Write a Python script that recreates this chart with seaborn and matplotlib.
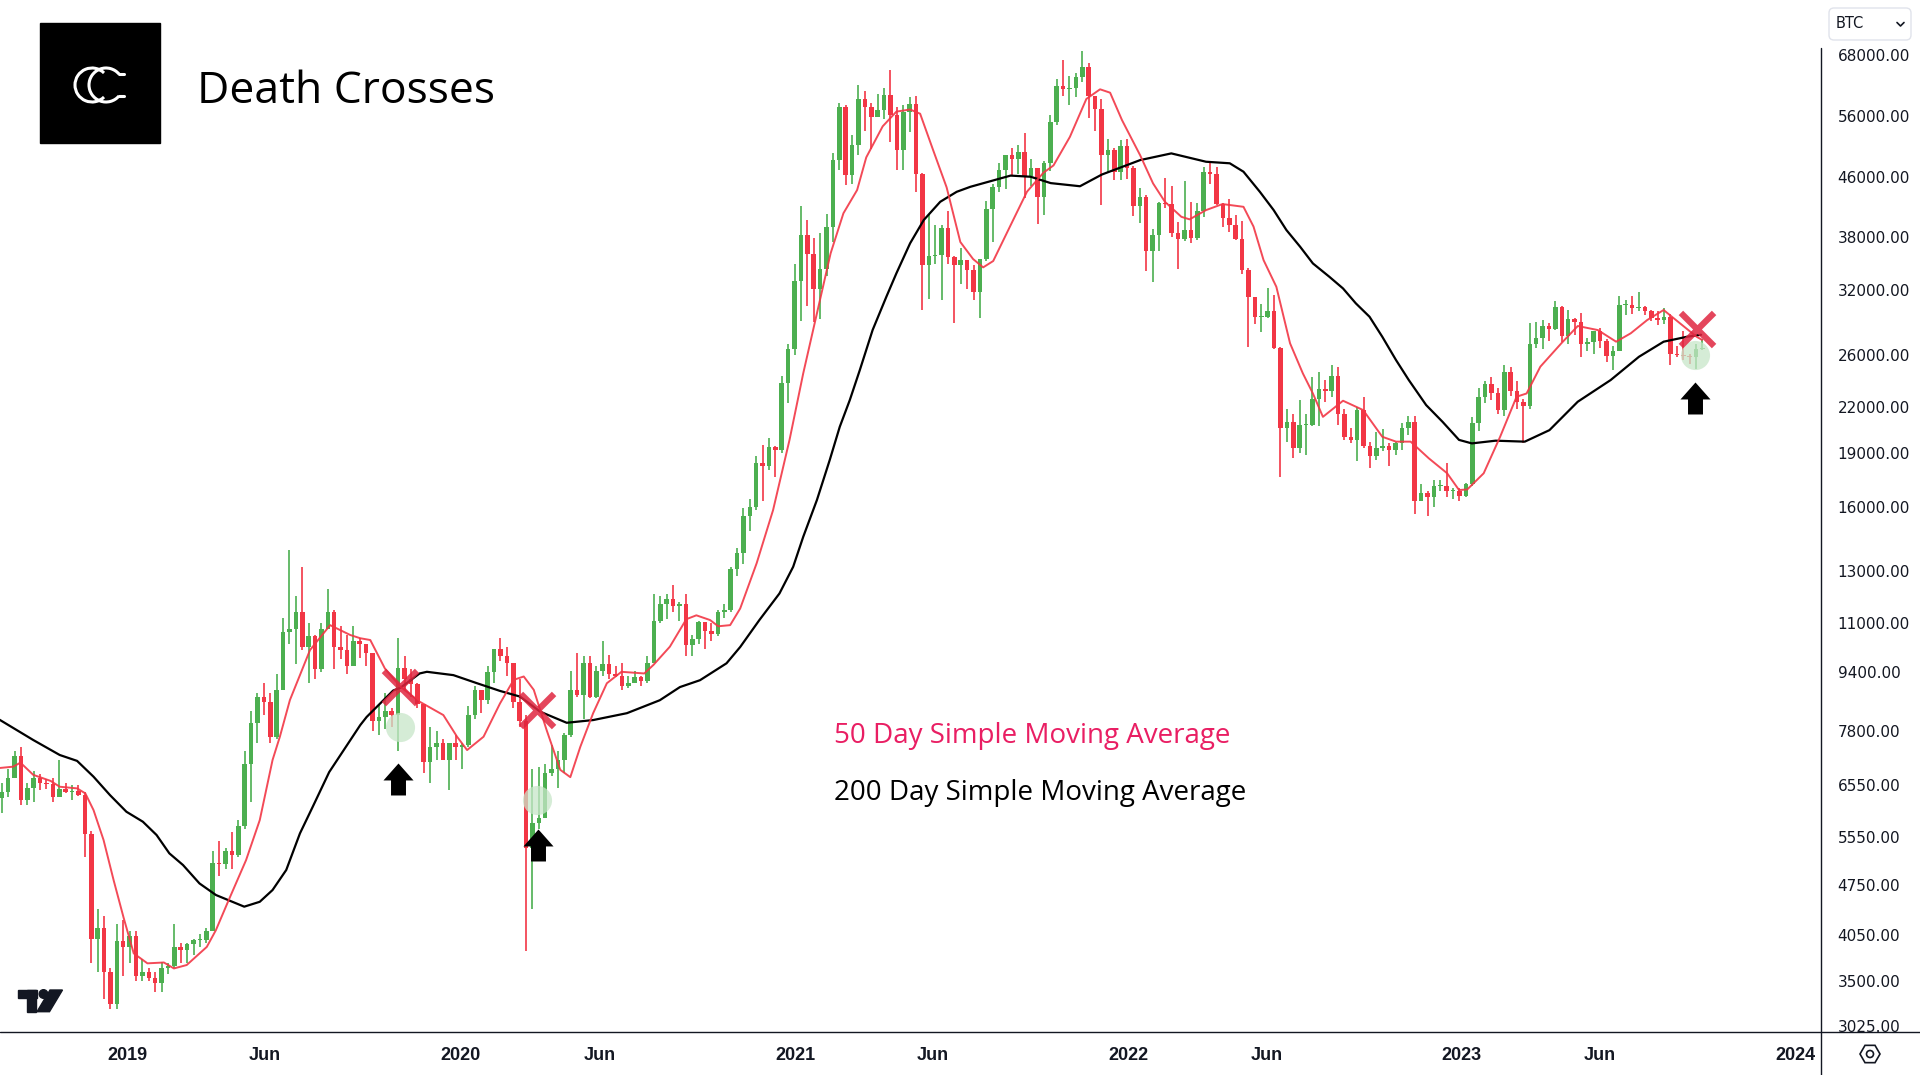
import numpy as np
import pandas as pd
import matplotlib
matplotlib.use('Agg')
import matplotlib.pyplot as plt
import matplotlib.dates as mdates
from matplotlib.patches import Rectangle, Circle, Polygon, RegularPolygon, FancyBboxPatch, Arc
from matplotlib.path import Path
from matplotlib.ticker import NullLocator, NullFormatter
import seaborn as sns

# weekly BTC candles, weeks start on Monday 2018-08-13
week_start = '2018-08-13'
first_open = 6280
close = [
    # 2018
    6400, 6700, 7200, 6250, 6500, 6700, 6600, 6570, 6300, 6480, 6400, 6420, 6350, 5600, 4000,
    4150, 3600, 3250, 3980, 3900, 4040,
    # 2019
    3550, 3600, 3530, 3470, 3650, 3670, 3900, 3860, 3940, 3990, 3990, 4100, 5100, 5080, 5300,
    5230, 5750, 7000, 8000, 8700, 8550, 7650, 8900, 10700, 10800, 11400, 10200, 10550, 9500,
    10800, 11400, 10200, 10100, 9600, 10400, 10300, 10000, 8050, 8150, 8300, 8200, 9550, 9200,
    9050, 8500, 7050, 7400, 7500, 7100, 7500, 7400, 7450,
    # 2020
    8200, 8900, 8600, 9400, 10150, 9900, 9700, 8550, 8050, 5350, 5800, 5900, 6800, 6900, 7100,
    7700, 8900, 8750, 9700, 8700, 9450, 9650, 9350, 9300, 9000, 9100, 9250, 9150, 9700, 11100,
    11700, 11900, 11650, 11700, 10250, 10450, 11050, 10750, 10650, 11400, 11500, 13100, 13800,
    15500, 16000, 18400, 18200, 19350, 19200, 23800, 26500, 33000,
    # 2021
    38200, 36000, 32100, 34300, 39250, 48600, 57500, 46300, 51000, 59000, 57500, 55800, 57100,
    59800, 56200, 50100, 56600, 58200, 46400, 34700, 35700, 35800, 39100, 35600, 34700, 35300,
    34200, 31800, 35400, 41500, 44600, 47100, 49300, 48800, 49900, 46100, 47300, 43200, 48200,
    54900, 61500, 61000, 61300, 63300, 65500, 59700, 57200, 49400, 50100, 46700, 50800, 47300,
    # 2022
    41900, 43100, 36300, 38200, 42400, 42200, 38400, 37700, 38800, 37800, 41300, 46800, 46400,
    42200, 40400, 39500, 37700, 34100, 31300, 29400, 29400, 29900, 26600, 20600, 21000, 19300,
    20800, 20800, 22600, 23300, 23200, 24300, 21500, 20000, 19800, 21800, 19400, 18800, 19300,
    19400, 19200, 19600, 20600, 21000, 16300, 16700, 16500, 17100, 17100, 16800, 16800, 16550,
    # 2023
    17200, 20900, 22700, 23700, 23000, 21800, 24600, 23200, 22400, 22100, 26900, 27500, 28500,
    28300, 30300, 27600, 29200, 28900, 26900, 27100, 28100, 27200, 25900, 26300, 30500, 30500,
    30200, 30300, 29900, 29300, 29100, 29400, 26100, 26000, 25900, 25800, 26500, 26600,
]
high = [
    # 2018
    6600, 6900, 7300, 7400, 6600, 6850, 6780, 6680, 6700, 7100, 6600, 6560, 6550, 6400, 5650,
    4400, 4300, 3650, 4200, 4250, 4100,
    # 2019
    4100, 3750, 3650, 3600, 3720, 3700, 4200, 3950, 3950, 4000, 4060, 4150, 5300, 5470, 5350,
    5630, 5850, 7300, 8300, 8800, 9100, 8800, 9350, 11200, 13900, 12000, 13200, 11000, 10600,
    11000, 12300, 11500, 10900, 10600, 10900, 10500, 10300, 10000, 8500, 8800, 8400, 10500, 9900,
    9500, 9100, 8500, 7900, 7800, 7600, 7500, 7700, 7500,
    # 2020
    8450, 9000, 8900, 9600, 10150, 10500, 10200, 9700, 9200, 8200, 6900, 6950, 7000, 7450, 7300,
    7750, 9450, 10000, 9900, 9900, 9600, 10400, 9950, 9600, 9700, 9300, 9450, 9300, 9900, 12100,
    12000, 12100, 12450, 11800, 12100, 10600, 11100, 11000, 11000, 11500, 11700, 13200, 14000,
    15900, 16400, 18800, 19500, 19900, 19450, 24300, 26900, 34800,
    # 2021
    41900, 40100, 37800, 38500, 40900, 49700, 58300, 58000, 52600, 61700, 60600, 58400, 60000,
    61300, 64800, 57500, 58000, 59500, 59600, 46600, 40900, 39500, 39500, 41300, 35700, 36600,
    35100, 34700, 34500, 42600, 45000, 48100, 49400, 50500, 51000, 52900, 48800, 47400, 48500,
    56100, 62900, 67000, 63700, 64300, 69000, 66300, 59300, 59100, 51900, 50500, 51800, 52000,
    # 2022
    47600, 44400, 43500, 38900, 42500, 45800, 44700, 39800, 45400, 42500, 42300, 47500, 48200,
    47500, 42400, 42900, 40800, 40000, 34400, 31300, 30600, 32200, 31500, 26700, 21900, 21500,
    22500, 21500, 24200, 24600, 24000, 25200, 25000, 21900, 20600, 22000, 22700, 19700, 20300,
    20500, 19600, 19700, 20900, 21400, 21400, 17200, 16800, 17400, 17400, 18400, 17000, 17000,
    # 2023
    17250, 21300, 23400, 23900, 24250, 23400, 25200, 25000, 23900, 22600, 28800, 28900, 29100,
    28800, 30900, 30400, 30000, 29300, 29800, 27500, 28000, 28400, 27400, 26800, 31400, 31000,
    31400, 31800, 30400, 30000, 29900, 30200, 29700, 26800, 28100, 26100, 26900, 27400,
]
low = [
    # 2018
    6000, 6300, 6700, 6150, 6150, 6200, 6450, 6480, 6200, 6300, 6380, 6250, 6320, 5200, 3700,
    3600, 3300, 3200, 3200, 3550, 3700,
    # 2019
    3500, 3500, 3500, 3370, 3380, 3580, 3650, 3700, 3700, 3800, 3900, 3950, 4100, 4900, 5000,
    5000, 5200, 5700, 6200, 7500, 8200, 7500, 7600, 8900, 10300, 9650, 10100, 9100, 9200,
    9400, 10800, 9500, 9800, 9350, 9600, 9850, 9600, 7800, 7700, 7850, 7900, 7300, 8900,
    8700, 8400, 6800, 6600, 7100, 7100, 6450, 7100, 6900,
    # 2020
    7400, 8100, 8250, 8500, 9100, 9750, 9300, 8400, 7900, 3850, 4400, 5700, 5900, 6750, 6500,
    6800, 7650, 8700, 8100, 8650, 8650, 9300, 9200, 9250, 8900, 8950, 9100, 9000, 9100, 9700,
    11000, 11150, 11400, 11100, 9900, 9900, 10300, 10150, 10400, 10550, 11200, 11400, 12800,
    13300, 14800, 15800, 16300, 18000, 17600, 19000, 22300, 26000,
    # 2021
    29000, 30400, 28900, 29200, 33500, 37400, 47000, 44900, 45000, 49300, 53300, 50400, 55700,
    55400, 51500, 47000, 47100, 53100, 43800, 30000, 31100, 34800, 31000, 34800, 28800, 32700,
    32100, 31000, 29300, 35200, 37400, 43800, 44300, 46300, 46400, 43000, 44700, 39600, 40800,
    46900, 54300, 59600, 58000, 59400, 62300, 55600, 53300, 42000, 46800, 45500, 45600, 45700,
    # 2022
    40600, 39700, 34000, 32900, 36300, 41700, 38000, 34300, 37500, 37200, 37600, 40500, 45000,
    42100, 39200, 38600, 37600, 33700, 26700, 28700, 28000, 29300, 26500, 17600, 19700, 18700,
    19000, 18900, 20700, 20700, 22400, 22700, 20800, 19800, 19600, 18500, 19300, 18100, 18600,
    19100, 18200, 18900, 19200, 20100, 15600, 16300, 15500, 16000, 16800, 16500, 16400, 16300,
    # 2023
    16500, 17100, 20400, 22300, 22500, 21500, 21400, 22800, 21900, 19600, 21900, 26600, 26500,
    27200, 28200, 27100, 26900, 27700, 25800, 26300, 26100, 26600, 25400, 24800, 26300, 29600,
    29700, 29900, 29600, 29000, 28600, 28700, 25200, 25800, 25600, 25300, 24900, 26400,
]

# 50 day SMA (red) and 200 day SMA (black)
sma50_dates = [
    '2018-08-14', '2018-08-29', '2018-09-06', '2018-09-20', '2018-10-09', '2018-10-19', '2018-11-07',
    '2018-11-16', '2018-11-25', '2018-12-06', '2018-12-17', '2018-12-28', '2019-01-08', '2019-01-23',
    '2019-02-10', '2019-02-21', '2019-03-07', '2019-03-29', '2019-04-08', '2019-04-22', '2019-05-11',
    '2019-05-26', '2019-06-09', '2019-06-17', '2019-06-28', '2019-07-20', '2019-08-11', '2019-09-02',
    '2019-09-13', '2019-09-24', '2019-10-10', '2019-10-27', '2019-11-17', '2019-12-13', '2019-12-28',
    '2020-01-08', '2020-01-26', '2020-02-13', '2020-02-28', '2020-03-10', '2020-03-21', '2020-04-04',
    '2020-04-19', '2020-04-30', '2020-05-11', '2020-05-25', '2020-06-09', '2020-06-25', '2020-07-20',
    '2020-07-30', '2020-08-17', '2020-09-04', '2020-09-15', '2020-09-30', '2020-10-09', '2020-10-22',
    '2020-11-02', '2020-11-20', '2020-12-08', '2020-12-26', '2021-01-10', '2021-01-25', '2021-02-09',
    '2021-02-23', '2021-03-10', '2021-03-20', '2021-04-07', '2021-04-22', '2021-05-07', '2021-05-18',
    '2021-06-01', '2021-06-16', '2021-07-01', '2021-07-15', '2021-07-26', '2021-08-06', '2021-08-25',
    '2021-09-12', '2021-09-30', '2021-10-11', '2021-10-29', '2021-11-16', '2021-12-01', '2021-12-12',
    '2021-12-25', '2022-01-14', '2022-01-28', '2022-02-10', '2022-02-28', '2022-03-09', '2022-03-27',
    '2022-04-14', '2022-05-07', '2022-05-18', '2022-05-29', '2022-06-12', '2022-06-27', '2022-07-11',
    '2022-07-22', '2022-08-02', '2022-08-24', '2022-09-15', '2022-10-06', '2022-10-21', '2022-11-06',
    '2022-11-26', '2022-12-16', '2022-12-29', '2023-01-07', '2023-01-25', '2023-02-12', '2023-03-02',
    '2023-03-13', '2023-03-28', '2023-04-20', '2023-05-08', '2023-05-30', '2023-06-19', '2023-07-05',
    '2023-07-23', '2023-08-10', '2023-08-28', '2023-09-15', '2023-09-21',
]
sma50_vals = [
    6920, 6950, 7040, 6770, 6640, 6517, 6483,
    6380, 6047, 5493, 4830, 4280, 3820, 3700,
    3710, 3640, 3680, 3900, 4116, 4532, 5151,
    5856, 7100, 7650, 8604, 10100, 10940, 10600,
    10490, 10430, 9520, 8980, 8560, 8200, 7650,
    7330, 7650, 8510, 9180, 9280, 8890, 7820,
    6880, 6720, 7410, 8250, 9080, 9420, 9370,
    9630, 10210, 11150, 11290, 11120, 10900, 10940,
    11540, 13340, 15820, 19810, 24520, 29720, 36030,
    40960, 44130, 49000, 54130, 56740, 57130, 56360,
    50250, 44510, 37360, 35370, 34440, 35150, 39410,
    43900, 46650, 47750, 52340, 59100, 60950, 60290,
    55220, 49300, 45080, 42500, 40500, 40170, 41380,
    42190, 41820, 39250, 35250, 32360, 27000, 24520,
    22990, 21330, 22460, 21800, 20010, 19700, 19700,
    18670, 17800, 16870, 16900, 17800, 20010, 22750,
    22990, 25050, 27000, 28540, 28170, 27140, 27880,
    29090, 30040, 28780, 27580, 27300,
]
sma200_dates = [
    '2018-08-14', '2018-09-20', '2018-10-19', '2018-11-07', '2018-11-25', '2018-12-13', '2018-12-31',
    '2019-01-18', '2019-02-02', '2019-02-16', '2019-03-03', '2019-03-21', '2019-04-08', '2019-04-26',
    '2019-05-09', '2019-05-26', '2019-06-09', '2019-06-24', '2019-07-09', '2019-07-23', '2019-08-10',
    '2019-09-13', '2019-09-20', '2019-10-19', '2019-10-27', '2019-11-17', '2019-11-25', '2019-12-24',
    '2020-01-19', '2020-02-13', '2020-03-06', '2020-03-28', '2020-04-26', '2020-05-25', '2020-07-01',
    '2020-08-06', '2020-08-28', '2020-09-19', '2020-09-30', '2020-10-18', '2020-11-02', '2020-11-23',
    '2020-12-15', '2020-12-30', '2021-01-10', '2021-01-25', '2021-02-08', '2021-02-19', '2021-03-02',
    '2021-03-13', '2021-03-27', '2021-04-11', '2021-04-22', '2021-05-07', '2021-05-22', '2021-06-09',
    '2021-06-27', '2021-07-12', '2021-08-25', '2021-09-16', '2021-10-08', '2021-11-09', '2021-12-03',
    '2022-01-14', '2022-02-17', '2022-03-27', '2022-04-22', '2022-05-07', '2022-05-25', '2022-06-09',
    '2022-06-23', '2022-07-08', '2022-07-22', '2022-08-09', '2022-08-24', '2022-09-07', '2022-09-22',
    '2022-10-06', '2022-10-21', '2022-11-04', '2022-11-23', '2022-12-11', '2022-12-29', '2023-01-12',
    '2023-02-07', '2023-03-11', '2023-04-07', '2023-05-08', '2023-06-13', '2023-07-14', '2023-08-10',
    '2023-09-05', '2023-09-20',
]
sma200_vals = [
    8080, 7570, 7215, 7080, 6730, 6345, 6015,
    5826, 5583, 5264, 5070, 4780, 4606, 4507,
    4437, 4507, 4680, 4991, 5612, 6112, 6830,
    7940, 8150, 8870, 8950, 9370, 9420, 9320,
    9080, 8860, 8700, 8290, 8000, 8070, 8250,
    8600, 8970, 9170, 9360, 9680, 10200, 11120,
    12110, 13190, 14520, 16340, 18570, 20660, 22510,
    24790, 28180, 31340, 33790, 37200, 40090, 42500,
    43880, 44590, 46220, 46050, 45120, 44670, 46380,
    48580, 49630, 48320, 48080, 46800, 43870, 41390,
    38820, 36800, 34880, 33420, 32190, 30690, 29400,
    27570, 25590, 24000, 22150, 20990, 19810, 19590,
    19760, 19700, 20440, 22390, 24000, 25860, 27140,
    27580, 27750,
]

# death cross markers
cross_dates = ['2019-10-27', '2020-03-24', '2023-09-16']
cross_prices = [8980, 8330, 28230]
circle_dates = ['2019-10-26', '2020-03-25', '2023-09-13']
circle_prices = [7900, 6245, 26000]
arrow_dates = ['2019-10-24', '2020-03-26', '2023-09-13']
arrow_prices = [6680, 5400, 22670]

price_ticks = [68000, 56000, 46000, 38000, 32000, 26000, 22000, 19000, 16000, 13000,
               11000, 9400, 7800, 6550, 5550, 4750, 4050, 3500, 3025]
time_ticks = ['2019-01-01', '2019-06-01', '2020-01-01', '2020-06-01', '2021-01-01', '2021-06-01',
              '2022-01-01', '2022-06-01', '2023-01-01', '2023-06-01', '2024-01-01']
time_labels = ['2019', 'Jun', '2020', 'Jun', '2021', 'Jun', '2022', 'Jun', '2023', 'Jun', '2024']

sns.set_theme(style='white')
plt.rcParams['font.family'] = ['DejaVu Sans']

W, H = 1920, 1075
fig = plt.figure(figsize=(W / 100, H / 100), dpi=100)
fig.patch.set_facecolor('white')
ax = fig.add_axes([0, 43 / H, 1821 / W, 1032 / H])
ax.set_facecolor('white')

# candles
xw = mdates.date2num(pd.date_range(week_start, periods=len(close), freq='7D')) + 3.5
c = np.array(close, dtype=float)
o = np.r_[first_open, c[:-1]]
hi = np.array(high, dtype=float)
lo = np.array(low, dtype=float)
col = np.where(c >= o, '#4caf50', '#f23645')
ax.vlines(xw, lo, hi, colors=col, linewidth=1.2, zorder=2)
body = np.maximum(np.abs(c - o), o * 0.003)
ax.bar(xw, body, bottom=np.minimum(o, c), width=5.0, color=col, linewidth=0, zorder=2)

# moving averages
df50 = pd.DataFrame({'x': mdates.date2num(pd.to_datetime(sma50_dates)), 'y': sma50_vals})
df200 = pd.DataFrame({'x': mdates.date2num(pd.to_datetime(sma200_dates)), 'y': sma200_vals})
sns.lineplot(data=df200, x='x', y='y', ax=ax, color='black', linewidth=1.6, zorder=3)
sns.lineplot(data=df50, x='x', y='y', ax=ax, color='#f23645', linewidth=1.4, alpha=0.9, zorder=3)

# crosses, circles, arrows
ax.scatter(mdates.date2num(pd.to_datetime(circle_dates)), circle_prices, s=440,
           color='#c8e6c9', alpha=0.75, linewidths=0, zorder=4)
ax.scatter(mdates.date2num(pd.to_datetime(cross_dates)), cross_prices, marker='x', s=570,
           linewidths=4.5, color='#e0253f', alpha=0.85, zorder=5)
arrow = Path([(0, 0.5), (0.47, -0.03), (0.234, -0.03), (0.234, -0.5), (-0.234, -0.5),
              (-0.234, -0.03), (-0.47, -0.03), (0, 0.5)])
ax.scatter(mdates.date2num(pd.to_datetime(arrow_dates)), arrow_prices, marker=arrow, s=530,
           color='black', linewidths=0, zorder=5)

# axes
ax.set_yscale('log')
ax.yaxis.set_minor_locator(NullLocator())
ax.yaxis.set_minor_formatter(NullFormatter())
ax.set_yticks(price_ticks)
ax.set_yticklabels([f'{v:.2f}' for v in price_ticks])
ax.yaxis.tick_right()
ax.tick_params(axis='y', length=0, pad=12, labelsize=11, labelcolor='#131722')
ax.set_ylim(2969, 81150)
base = mdates.date2num(pd.Timestamp('2019-01-01'))
ax.set_xlim(base - 139.4, base + 1854.3)
ax.set_xticks(mdates.date2num(pd.to_datetime(time_ticks)))
ax.set_xticklabels(time_labels)
ax.tick_params(axis='x', length=0, pad=11, labelsize=13, labelcolor='#131722')
for t in ax.get_xticklabels():
    t.set_fontweight('bold')
    t.set_family(['Liberation Sans Narrow', 'Liberation Sans', 'DejaVu Sans'])
ax.set_xlabel('')
ax.set_ylabel('')
for s in ax.spines.values():
    s.set_visible(False)

# overlay in pixel units for the frame lines and decorations
ov = fig.add_axes([0, 0, 1, 1], zorder=10)
ov.set_xlim(0, W)
ov.set_ylim(H, 0)
ov.axis('off')
ov.plot([0, W], [1032, 1032], color='#131722', lw=1.0)
ov.plot([1821, 1821], [48, H], color='#131722', lw=1.0)

# logo
ov.add_patch(Rectangle((40, 23), 120, 120, color='black'))
ov.add_patch(Arc((92, 85), 34, 34, theta1=45, theta2=315, color='white', lw=2.2))
ov.add_patch(Arc((106, 85), 34, 34, theta1=40, theta2=320, color='white', lw=2.2))
ov.plot([119, 124], [74, 74], color='white', lw=2.2)
ov.plot([119, 124], [96, 96], color='white', lw=2.2)
ov.text(197, 103, 'Death Crosses', fontsize=32, family=['Open Sans', 'DejaVu Sans'],
        color='black', ha='left', va='baseline')

ov.text(834, 743, '50 Day Simple Moving Average', fontsize=20,
        family=['Open Sans', 'DejaVu Sans'], color='#e91e63', ha='left', va='baseline')
ov.text(834, 800, '200 Day Simple Moving Average', fontsize=20,
        family=['Open Sans', 'DejaVu Sans'], color='black', ha='left', va='baseline')

# TradingView mark
tv = '#131722'
ov.add_patch(Rectangle((18, 990), 18.5, 7.5, color=tv))
ov.add_patch(Rectangle((26.7, 990), 9.3, 21.7, color=tv))
ov.add_patch(Circle((43.5, 994), 4.3, color=tv))
ov.add_patch(Polygon([(50, 990), (62.5, 990), (49.5, 1011.7), (37, 1011.7)], color=tv))

# symbol box and settings icon
ov.add_patch(FancyBboxPatch((1829, 8), 82, 32, boxstyle='round,pad=0,rounding_size=5',
                            fc='white', ec='#e0e3eb', lw=1))
ov.text(1836, 24, 'BTC', fontsize=10.5, color=tv, ha='left', va='center')
ov.plot([1897, 1900.5, 1904], [22.5, 26, 22.5], color=tv, lw=1.2)
ov.add_patch(RegularPolygon((1870, 1054), 6, radius=10, orientation=np.pi / 6,
                            fill=False, ec=tv, lw=1.2))
ov.add_patch(Circle((1870, 1054), 3.5, fill=False, ec=tv, lw=1.2))

fig.savefig('out.png', dpi=100, facecolor='white')
